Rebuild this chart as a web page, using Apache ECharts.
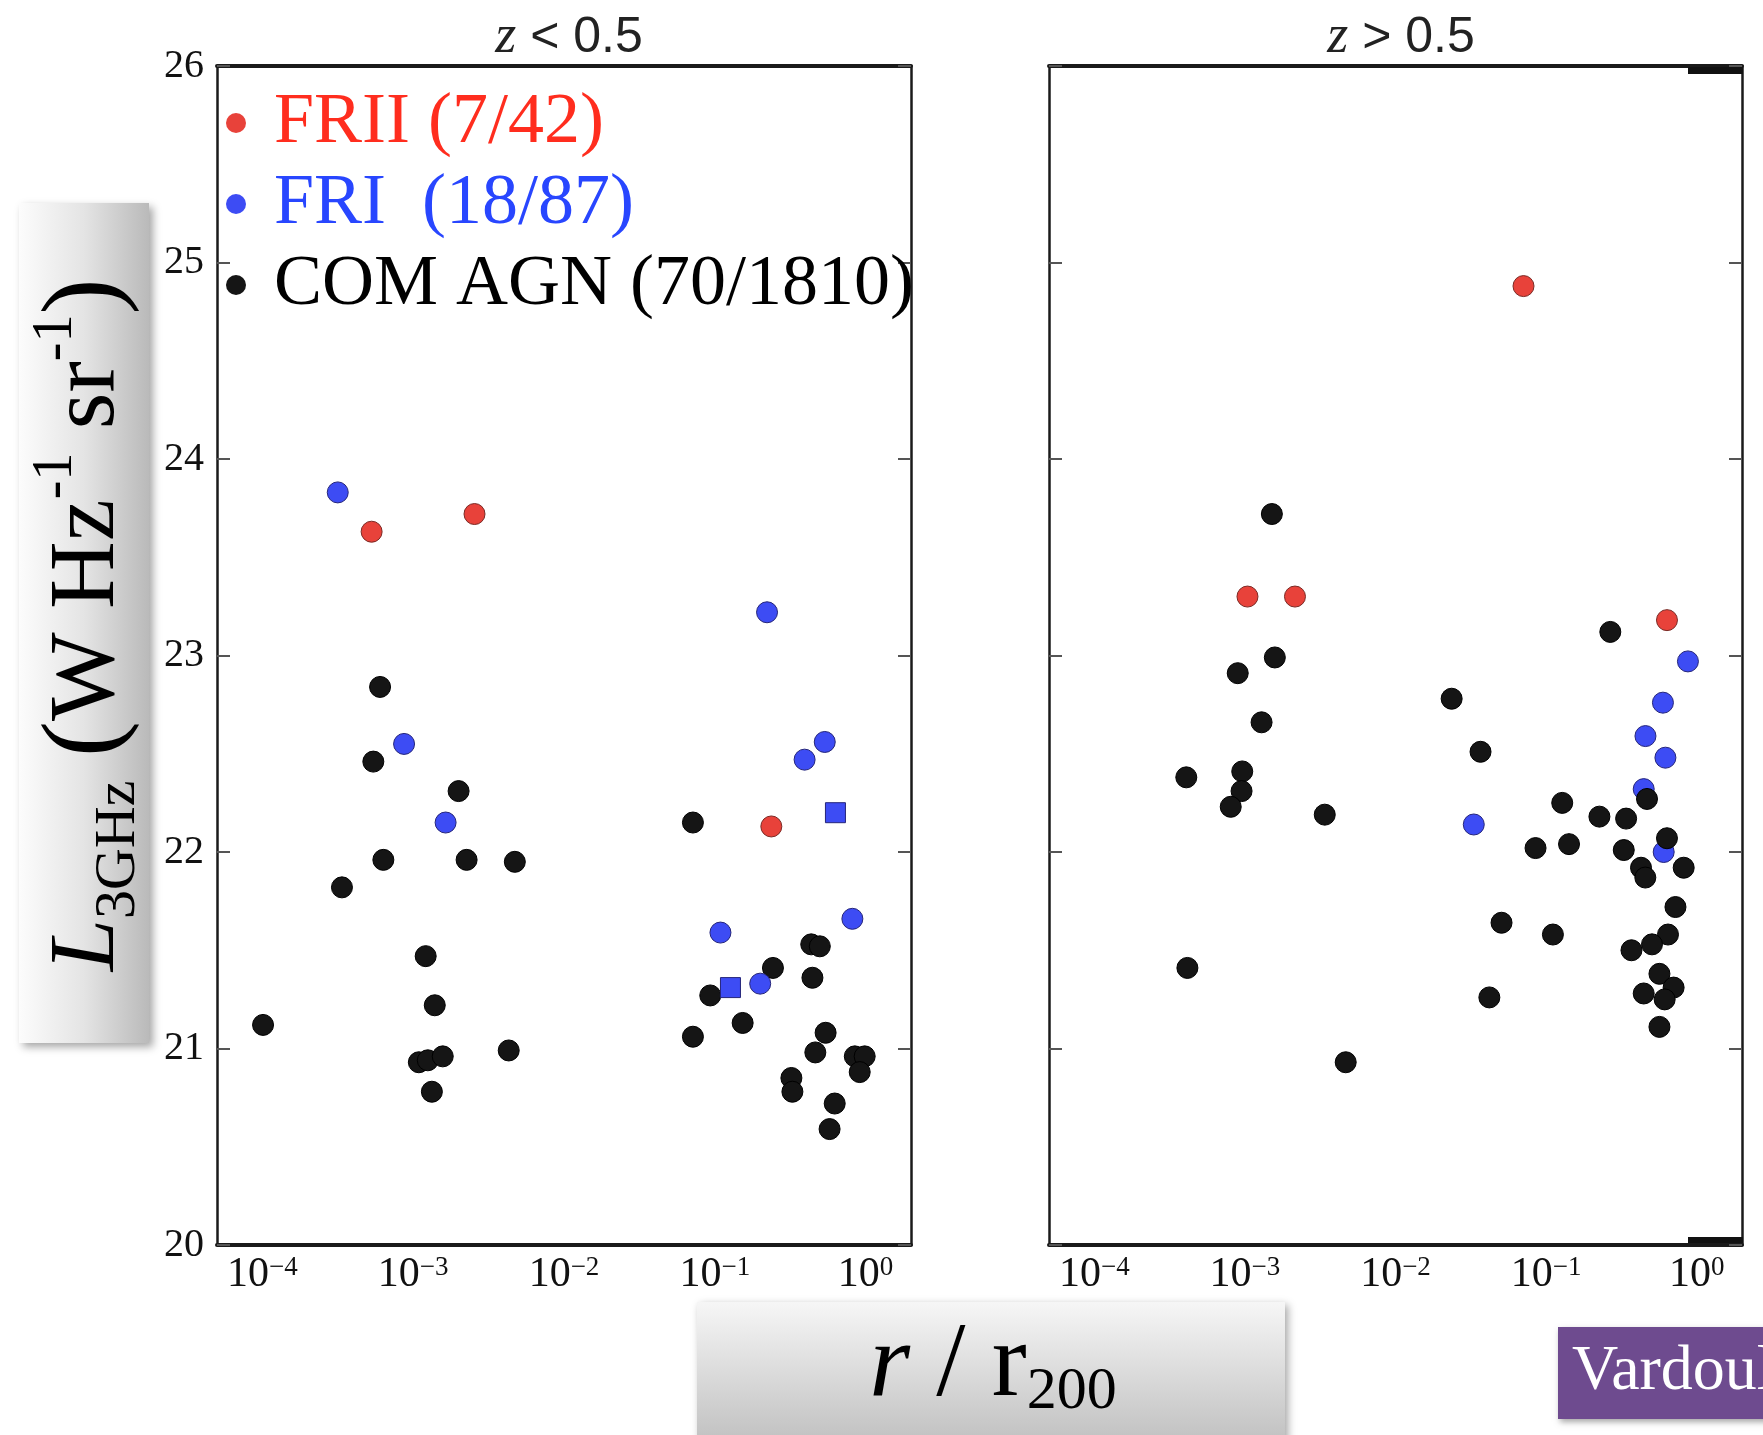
<!DOCTYPE html>
<html>
<head>
<meta charset="utf-8">
<script src="https://cdn.jsdelivr.net/npm/echarts@6/dist/echarts.min.js"></script>
<style>
html,body{margin:0;padding:0;background:#ffffff;}
#c{width:1763px;height:1435px;}
</style>
</head>
<body>
<div id="c"></div>
<script>
// ---------------- data ----------------
// x = r / r200 (log), y = log L_3GHz
const panelTitleOps = ['<', '>'];
const panelTitleValue = '0.5';
const seriesNames = ['FRII (7/42)', 'FRI  (18/87)', 'COM AGN (70/1810)'];
const yTicks = [20, 21, 22, 23, 24, 25, 26];
const xRange = [5e-5, 2];

// z < 0.5
const lowFRII = [[5.3e-4, 23.63], [2.55e-3, 23.72], [0.237, 22.13]];
const lowFRI = [[3.16e-4, 23.83], [8.7e-4, 22.55], [1.64e-3, 22.15], [0.222, 23.22],
  [0.394, 22.47], [0.536, 22.56], [0.817, 21.66], [0.109, 21.59], [0.200, 21.33]];
const lowFRIsq = [[0.631, 22.20], [0.127, 21.31]];
const lowCOM = [[6.03e-4, 22.84], [5.44e-4, 22.46], [2.0e-3, 22.31], [6.34e-4, 21.96],
  [2.26e-3, 21.96], [4.72e-3, 21.95], [3.37e-4, 21.82], [1.21e-3, 21.47], [1.39e-3, 21.22],
  [1.01e-4, 21.12], [1.09e-3, 20.93], [1.25e-3, 20.94], [1.57e-3, 20.96], [4.3e-3, 20.99],
  [1.33e-3, 20.78], [0.0716, 22.15], [0.436, 21.53], [0.497, 21.52], [0.243, 21.41],
  [0.444, 21.36], [0.0933, 21.27], [0.153, 21.13], [0.0716, 21.06], [0.543, 21.08],
  [0.464, 20.98], [0.848, 20.96], [0.986, 20.96], [0.914, 20.88], [0.322, 20.85],
  [0.327, 20.78], [0.624, 20.72], [0.577, 20.59]];

// z > 0.5
const highFRII = [[0.0708, 24.88], [1.04e-3, 23.30], [2.15e-3, 23.30], [0.635, 23.18]];
const highFRI = [[0.875, 22.97], [0.597, 22.76], [0.457, 22.59], [0.62, 22.48],
  [0.445, 22.32], [0.0331, 22.14], [0.604, 22.00]];
const highCOM = [[1.51e-3, 23.72], [1.58e-3, 22.99], [8.96e-4, 22.91], [1.29e-3, 22.66],
  [4.08e-4, 22.38], [9.6e-4, 22.41], [9.5e-4, 22.31], [8.05e-4, 22.23], [3.39e-3, 22.19],
  [4.15e-4, 21.41], [4.67e-3, 20.93], [0.267, 23.12], [0.0236, 22.78], [0.0367, 22.51],
  [0.468, 22.27], [0.128, 22.25], [0.226, 22.18], [0.34, 22.17], [0.0851, 22.02],
  [0.142, 22.04], [0.328, 22.01], [0.635, 22.07], [0.82, 21.92], [0.427, 21.92],
  [0.456, 21.87], [0.723, 21.72], [0.0506, 21.64], [0.111, 21.58], [0.645, 21.58],
  [0.505, 21.53], [0.369, 21.50], [0.566, 21.38], [0.703, 21.31], [0.445, 21.28],
  [0.613, 21.25], [0.042, 21.26], [0.566, 21.11]];

// ---------------- styling ----------------
const serif = "'Liberation Serif', 'Times New Roman', serif";
const sans = "'Liberation Sans', Arial, sans-serif";
const RED = '#e8423a', RED_EDGE = '#7a2a25';
const BLUE = '#3d4cf4', BLUE_EDGE = '#25257a';
const BLACK = '#151515', BLACK_EDGE = '#000000';
const legendColors = ['#ff2d1e', '#2846ff', '#000000'];

const chart = echarts.init(document.getElementById('c'), null, {renderer: 'canvas', width: 1763, height: 1435});

function powLabel(v) {
  const e = Math.log10(v);
  const r = Math.round(e);
  if (Math.abs(e - r) > 1e-6) return '';
  return '{b|10}{s|' + (r < 0 ? '\u2212' + (-r) : String(r)) + '}';
}

function xAxes(g) {
  const common = {type: 'log', logBase: 10, gridIndex: g, min: xRange[0], max: xRange[1],
    splitLine: {show: false}, minorTick: {show: false}, axisTick: {show: false}};
  return [
    Object.assign({}, common, {position: 'bottom',
      axisLine: {show: true, onZero: false, lineStyle: {color: '#1a1a1a', width: 4}},
      axisLabel: {show: true, margin: 9, formatter: powLabel, color: '#111',
        rich: {b: {fontFamily: serif, fontSize: 42, color: '#111'},
               s: {fontFamily: serif, fontSize: 27, color: '#111', verticalAlign: 'top'}}}}),
    Object.assign({}, common, {position: 'top',
      axisLine: {show: true, onZero: false, lineStyle: {color: '#1a1a1a', width: 4}},
      axisLabel: {show: false}})
  ];
}
function yAxes(g) {
  const common = {type: 'value', gridIndex: g, min: yTicks[0], max: yTicks[yTicks.length - 1], interval: 1,
    splitLine: {show: false},
    axisLine: {show: true, onZero: false, lineStyle: {color: '#1a1a1a', width: 2.5}},
    axisTick: {show: true, inside: true, length: 13, lineStyle: {color: '#555', width: 2}}};
  return [
    Object.assign({}, common, {position: 'left',
      axisLabel: {show: g === 0, margin: 13, fontFamily: serif, fontSize: 40, color: '#111'}}),
    Object.assign({}, common, {position: 'right', axisLabel: {show: false}})
  ];
}
function sc(name, data, panel, fill, edge, symbol, size, z) {
  return {type: 'scatter', name: name, data: data, xAxisIndex: panel * 2, yAxisIndex: panel * 2,
    symbol: symbol, symbolSize: size, z: z, silent: true,
    itemStyle: {color: fill, borderColor: edge, borderWidth: 1, opacity: 1},
    emphasis: {disabled: true}};
}

function titleFor(i, center) {
  return {text: '{i|z}{n| ' + panelTitleOps[i] + ' ' + panelTitleValue + '}',
    left: center, top: 6, textAlign: 'center',
    textStyle: {fontWeight: 'normal', rich: {
      i: {fontFamily: serif, fontStyle: 'italic', fontWeight: 'normal', fontSize: 54, color: '#222'},
      n: {fontFamily: sans, fontWeight: 'normal', fontSize: 50, color: '#222'}}}};
}

const option = {
  backgroundColor: '#ffffff',
  animation: false,
  title: [titleFor(0, 564), titleFor(1, 1396)],
  grid: [
    {left: 217, top: 66, width: 694, height: 1179},
    {left: 1049, top: 66, width: 693, height: 1179}
  ],
  xAxis: xAxes(0).concat(xAxes(1)),
  yAxis: yAxes(0).concat(yAxes(1)),
  legend: {
    orient: 'vertical', left: 226, top: 87, padding: 0, itemGap: 9,
    icon: 'circle', itemWidth: 20, itemHeight: 20,
    itemStyle: {borderWidth: 0},
    selectedMode: false,
    textStyle: {fontFamily: serif, fontSize: 72, padding: [0, 0, 0, 23]},
    data: seriesNames.map((n, i) => ({name: n, textStyle: {color: legendColors[i]}}))
  },
  series: [
    sc(seriesNames[2], lowCOM, 0, BLACK, BLACK_EDGE, 'circle', 21, 2),
    sc(seriesNames[1], lowFRI, 0, BLUE, BLUE_EDGE, 'circle', 21, 3),
    sc(seriesNames[1], lowFRIsq, 0, BLUE, BLUE_EDGE, 'rect', 20, 3),
    sc(seriesNames[0], lowFRII, 0, RED, RED_EDGE, 'circle', 21, 3),
    sc(seriesNames[1], highFRI, 1, BLUE, BLUE_EDGE, 'circle', 21, 2),
    sc(seriesNames[0], highFRII, 1, RED, RED_EDGE, 'circle', 21, 2),
    sc(seriesNames[2], highCOM, 1, BLACK, BLACK_EDGE, 'circle', 21, 3)
  ],
  graphic: [
    {type: 'rect', shape: {x: 19, y: 203, width: 130, height: 840}, z: 1,
      style: {fill: {type: 'linear', x: 0, y: 0, x2: 1, y2: 0, colorStops: [
        {offset: 0, color: '#fcfcfc'}, {offset: 0.5, color: '#e4e4e4'}, {offset: 1, color: '#bababa'}]},
        shadowBlur: 8, shadowOffsetX: 4, shadowOffsetY: 4, shadowColor: 'rgba(0,0,0,0.35)'}},
    {type: 'text', x: 88, y: 625, rotation: Math.PI / 2, z: 2,
      style: {text: '{L|L}{sub|3GHz}{n| }{p|(}{n|W Hz}{sup|-1}{n| sr}{sup|-1}{p|)}',
        align: 'center', verticalAlign: 'middle',
        rich: {
          L: {fontFamily: serif, fontStyle: 'italic', fontSize: 94, lineHeight: 120, fill: '#000'},
          n: {fontFamily: serif, fontSize: 94, lineHeight: 120, fill: '#000'},
          p: {fontFamily: serif, fontSize: 108, lineHeight: 120, fill: '#000'},
          sub: {fontFamily: serif, fontSize: 58, lineHeight: 70, verticalAlign: 'bottom', fill: '#000'},
          sup: {fontFamily: serif, fontSize: 56, lineHeight: 56, verticalAlign: 'top', fill: '#000'}
        }}},
    {type: 'rect', shape: {x: 697, y: 1302, width: 588, height: 150}, z: 1,
      style: {fill: {type: 'linear', x: 0, y: 0, x2: 0, y2: 1, colorStops: [
        {offset: 0, color: '#f6f6f6'}, {offset: 1, color: '#bdbdbd'}]},
        shadowBlur: 8, shadowOffsetX: 3, shadowOffsetY: 3, shadowColor: 'rgba(0,0,0,0.35)'}},
    {type: 'text', x: 993, y: 1367, z: 2,
      style: {text: '{i|r}{n| / r}{s|200}', align: 'center', verticalAlign: 'middle',
        rich: {
          i: {fontFamily: serif, fontStyle: 'italic', fontSize: 105, lineHeight: 110, fill: '#000'},
          n: {fontFamily: serif, fontSize: 105, lineHeight: 110, fill: '#000'},
          s: {fontFamily: serif, fontSize: 60, lineHeight: 72, verticalAlign: 'bottom', fill: '#000'}
        }}},
    {type: 'rect', shape: {x: 1558, y: 1327, width: 210, height: 92}, z: 1,
      style: {fill: '#6e4b8f', shadowBlur: 6, shadowOffsetX: 2, shadowOffsetY: 3, shadowColor: 'rgba(0,0,0,0.35)'}},
    {type: 'text', x: 1572, y: 1372, z: 2,
      style: {text: 'Vardoulaki', fontFamily: serif, fontSize: 64, fill: '#ffffff', align: 'left', verticalAlign: 'middle'}},
    {type: 'rect', shape: {x: 1688, y: 67, width: 55, height: 7}, z: 5, style: {fill: '#111'}},
    {type: 'rect', shape: {x: 1688, y: 1237, width: 55, height: 6}, z: 5, style: {fill: '#111'}}
  ]
};
chart.setOption(option);
</script>
</body>
</html>
